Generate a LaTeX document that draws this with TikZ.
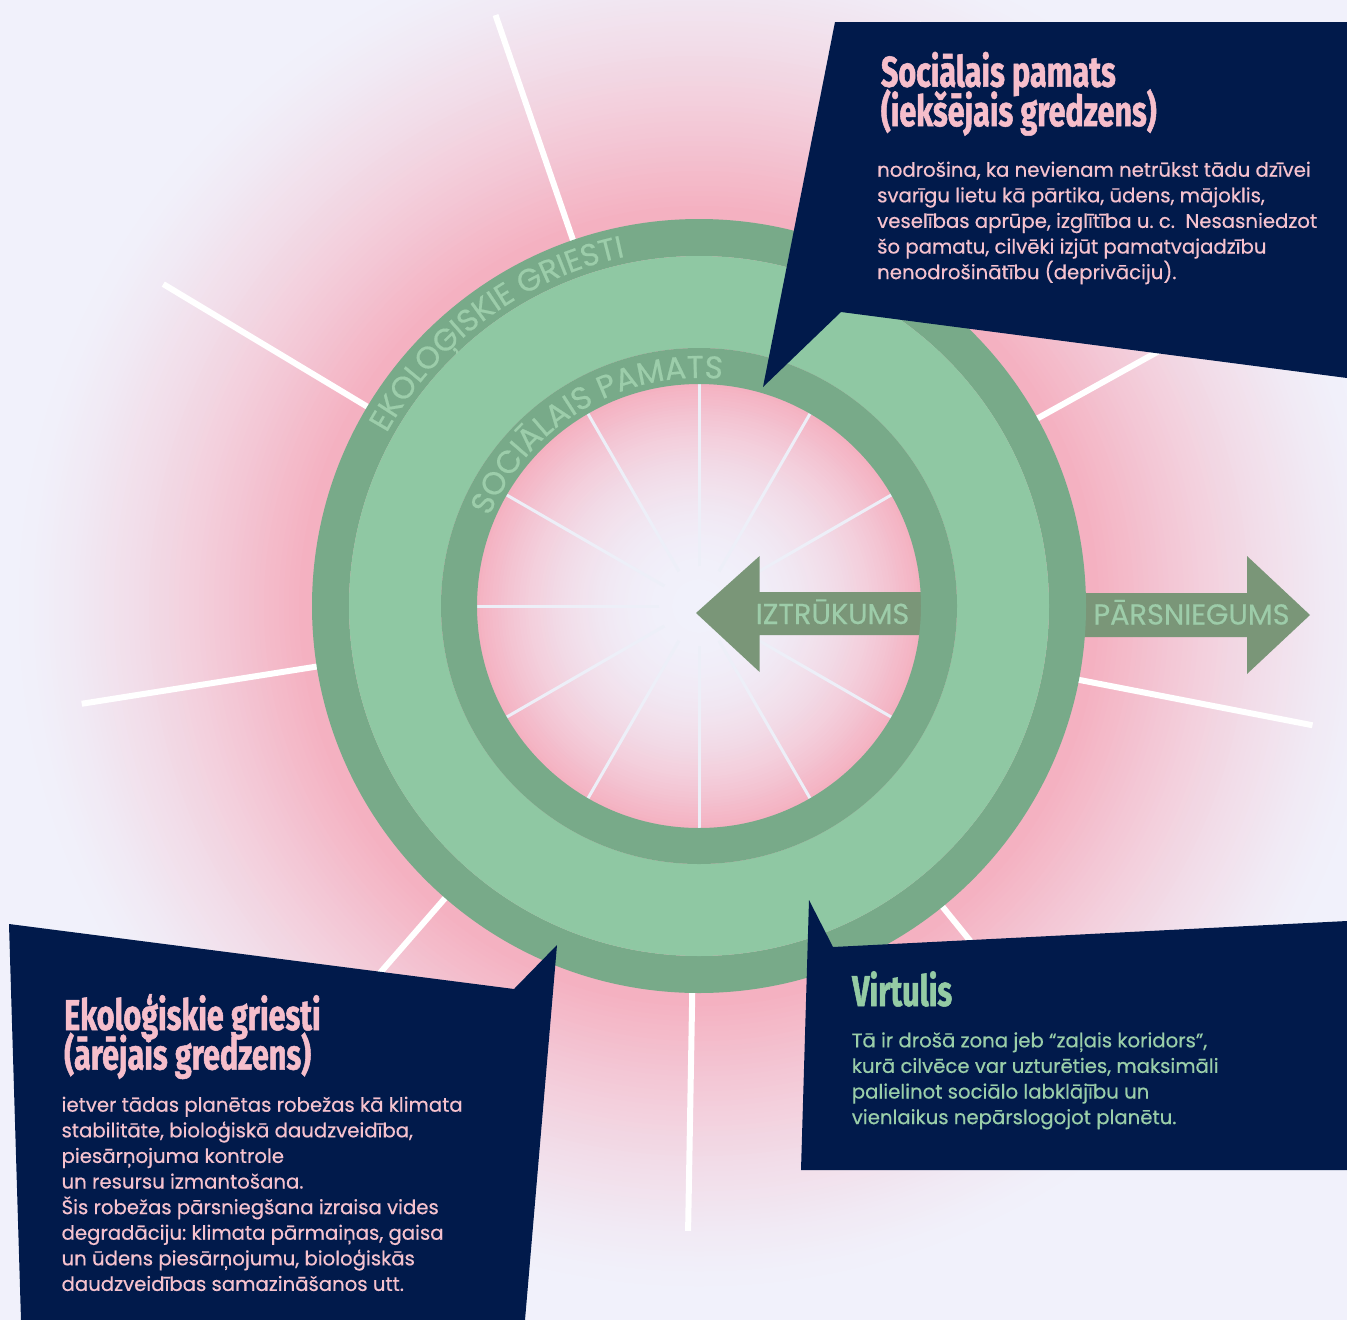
\documentclass[tikz,border=0pt]{standalone}
\usepackage{fontspec}
\setmainfont{Poppins}[FakeBold=0.5]
\newfontfamily\headfont{Fira Sans}[FakeStretch=0.71, BoldFeatures={FakeBold=1.2}]
\usetikzlibrary{decorations.text}
\definecolor{bgc}{HTML}{F1F1FB}
\definecolor{pk}{HTML}{F4B1C1}
\definecolor{navy}{HTML}{011A4B}
\definecolor{ringd}{HTML}{78AA89}
\definecolor{ringl}{HTML}{8FC8A3}
\definecolor{arr}{HTML}{7A9678}
\definecolor{arrtxt}{HTML}{9DCCA9}
\definecolor{ringtxt}{HTML}{9CCDAA}
\definecolor{pinktxt}{HTML}{F6C2CE}
\definecolor{pinkhd}{HTML}{F6BECB}
\definecolor{greenhd}{HTML}{94CBA4}
\definecolor{greentxt}{HTML}{9ACEA9}
\definecolor{spokein}{HTML}{EDEFF8}
\frenchspacing
\newcommand\mlines[1]{\vtop{\lineskiplimit=-1000pt\lineskip=0pt\halign{##\hfil\cr#1\crcr}}}
\tikzset{
  callout/.style={fill=navy},
  headtxt/.style={anchor=base west, inner sep=0pt, font={\headfont\bfseries\fontsize{43}{39.5}\selectfont}},
  bodytxt/.style={anchor=base west, inner sep=0pt, font={\fontsize{19.7}{25.6}\selectfont}},
  arrowtxt/.style={anchor=base, inner sep=0pt, text=arrtxt, font={\fontsize{28.8}{28.8}\selectfont}},
  bigarrow/.style={fill=arr},
  outspoke/.style={draw=white, line width=6pt},
  inspoke/.style={draw=spokein, line width=3pt},
}
\begin{document}
\begin{tikzpicture}[x=1pt,y=-1pt]
\useasboundingbox (0,0) rectangle (1347,1320);
\fill[bgc] (0,0) rectangle (1347,1320);
% glow and rings around centre
\begin{scope}[shift={(699,606)}, y=1pt]
  \clip (-699,-714) rectangle (648,606);
  \foreach \r in {740,735,...,390} {
    \pgfmathsetmacro\s{max(0,min(1,(\r-400)/290))}
    \pgfmathtruncatemacro\t{100*(1-\s)^1.35}
    \fill[pk!\t!bgc] (0,0) circle (\r);
  }
  \foreach \a in {29,69,...,349} {
    \draw[outspoke] (\a:380) -- (\a:625);
  }
  \foreach \r in {222,219,...,3} {
    \pgfmathtruncatemacro\t{100*(\r/222)^2.3}
    \fill[pk!\t!bgc] (0,0) circle (\r);
  }
  \foreach \a in {0,30,...,330} {
    \draw[inspoke] (\a:40) -- (\a:223);
  }
\end{scope}
% arrows
\fill[bigarrow] (696,613) -- (759.6,556) -- (759.6,592) -- (935,592) -- (935,635) -- (759.6,635) -- (759.6,672) -- cycle;
\fill[bigarrow] (1060,593) -- (1247,593) -- (1247,556) -- (1310,615) -- (1247,674) -- (1247,637) -- (1060,637) -- cycle;
\begin{scope}[shift={(699,606)}, y=1pt]
  \fill[ringd, even odd rule] (0,0) circle (387) (0,0) circle (350);
  \fill[ringl, even odd rule] (0,0) circle (350) (0,0) circle (258);
  \fill[ringd, even odd rule] (0,0) circle (258) (0,0) circle (222);
  \path[decorate, decoration={text along path, text align=center,
    text={|\fontsize{31}{31}\selectfont\color{ringtxt}|EKOLOĢISKIE GRIESTI}}]
    (160:357) arc (160:93:357);
  \path[decorate, decoration={text along path, text align=center,
    text={|\fontsize{31.5}{31.5}\selectfont\color{ringtxt}|SOCIĀLAIS PAMATS}}]
    (165:228) arc (165:76:228);
\end{scope}
\node[arrowtxt] (iz) at (832.5,624) {IZTRŪKUMS};
\node[arrowtxt] (pa) at (1191.5,624.5) {PĀRSNIEGUMS};
% callouts
\fill[callout] (835,22) -- (1347,22) -- (1347,378) -- (841,312) -- (763,387) -- cycle;
\fill[callout] (9,924) -- (514,989) -- (557,945) -- (525,1320) -- (21,1320) -- cycle;
\fill[callout] (809,900) -- (833,947) -- (1347,921) -- (1347,1170) -- (801,1170) -- cycle;
% texts
\node[headtxt, text=pinkhd] (sochead) at (880.7,86.7)
  {\mlines{Sociālais pamats\cr(iekšējais gredzens)}};
\node[bodytxt, text=pinktxt] (socbody) at (877,176.7)
  {\mlines{nodrošina, ka nevienam netrūkst tādu dzīvei\cr svarīgu lietu kā pārtika, ūdens, mājoklis,\cr veselības aprūpe, izglītība u. c.\ \ Nesasniedzot\cr šo pamatu, cilvēki izjūt pamatvajadzību\cr nenodrošinātību (deprivāciju).}};
\node[headtxt, text=pinkhd] (ekohead) at (64,1030)
  {\mlines{Ekoloģiskie griesti\cr(ārējais gredzens)}};
\node[bodytxt, text=pinktxt] (ekobody) at (61.4,1111.7)
  {\mlines{ietver tādas planētas robežas kā klimata\cr stabilitāte, bioloģiskā daudzveidība,\cr piesārņojuma kontrole\cr un resursu izmantošana.\cr Šis robežas pārsniegšana izraisa vides\cr degradāciju: klimata pārmaiņas, gaisa\cr un ūdens piesārņojumu, bioloģiskās\cr daudzveidības samazināšanos utt.}};
\node[headtxt, text=greenhd] (virhead) at (852,1006) {Virtulis};
\node[bodytxt, text=greentxt] (virbody) at (851.6,1047.3)
  {\mlines{Tā ir drošā zona jeb “zaļais koridors”,\cr kurā cilvēce var uzturēties, maksimāli\cr palielinot sociālo labklājību un\cr vienlaikus nepārslogojot planētu.}};
\end{tikzpicture}
\end{document}
